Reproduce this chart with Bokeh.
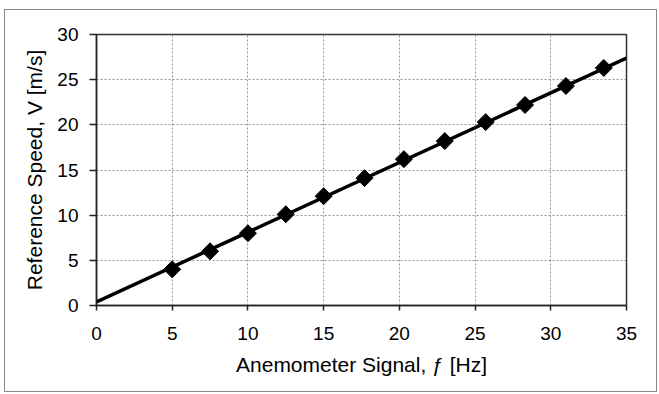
from bokeh.plotting import figure
from bokeh.models import Range1d, FixedTicker
from bokeh.embed import file_html
from bokeh.resources import INLINE

# Data
signal_hz = [5.0, 7.5, 10.0, 12.5, 15.0, 17.7, 20.3, 23.0, 25.7, 28.3, 31.0, 33.5]
speed_ms = [4.0, 6.0, 8.0, 10.1, 12.1, 14.1, 16.2, 18.2, 20.3, 22.2, 24.3, 26.3]
fit_hz = [0.0, 35.0]
fit_ms = [0.4, 27.4]
x_ticks = [0, 5, 10, 15, 20, 25, 30, 35]
y_ticks = [0, 5, 10, 15, 20, 25, 30]

FONT = "Liberation Sans"

p = figure(
    frame_width=530, frame_height=271,
    min_border_left=91, min_border_right=30, min_border_top=24, min_border_bottom=86,
    x_range=Range1d(0, 35), y_range=Range1d(0, 30),
    output_backend="svg", toolbar_location=None,
)
p.styles = {"border": "1px solid #888888", "margin-left": "4px", "margin-top": "9px"}

p.background_fill_color = "white"
p.border_fill_color = "white"
p.outline_line_color = "#333333"
p.outline_line_width = 1.5

p.xaxis.ticker = FixedTicker(ticks=x_ticks)
p.yaxis.ticker = FixedTicker(ticks=y_ticks)
p.xaxis.minor_tick_line_color = None
p.yaxis.minor_tick_line_color = None

for ax in (p.xaxis, p.yaxis):
    ax.axis_line_color = "#222222"
    ax.axis_line_width = 1.5
    ax.major_tick_line_color = "#222222"
    ax.major_tick_line_width = 1.5
    ax.major_tick_in = 0
    ax.major_label_text_font = FONT
    ax.major_label_text_font_size = "19px"
    ax.major_label_text_color = "black"
    ax.axis_label_text_font = FONT
    ax.axis_label_text_font_size = "21px"
    ax.axis_label_text_font_style = "normal"
    ax.axis_label_text_color = "black"

p.xaxis.major_tick_out = 5
p.yaxis.major_tick_out = 7
p.xaxis.major_label_standoff = 16
p.yaxis.major_label_standoff = 11
p.xaxis.axis_label = "Anemometer Signal, ƒ [Hz]"
p.yaxis.axis_label = "Reference Speed, V [m/s]"
p.xaxis.axis_label_standoff = 10
p.yaxis.axis_label_standoff = 8

for g in (p.xgrid, p.ygrid):
    g.grid_line_color = "#777777"
    g.grid_line_dash = "2 2"
    g.grid_line_width = 1
    g.grid_line_alpha = 0.8

p.line(fit_hz, fit_ms, line_color="black", line_width=3.5)
p.scatter(signal_hz, speed_ms, marker="square", angle=0.785398, size=12,
          fill_color="black", line_color="black", line_width=1)

open("out.html", "w").write(file_html(p, INLINE))
